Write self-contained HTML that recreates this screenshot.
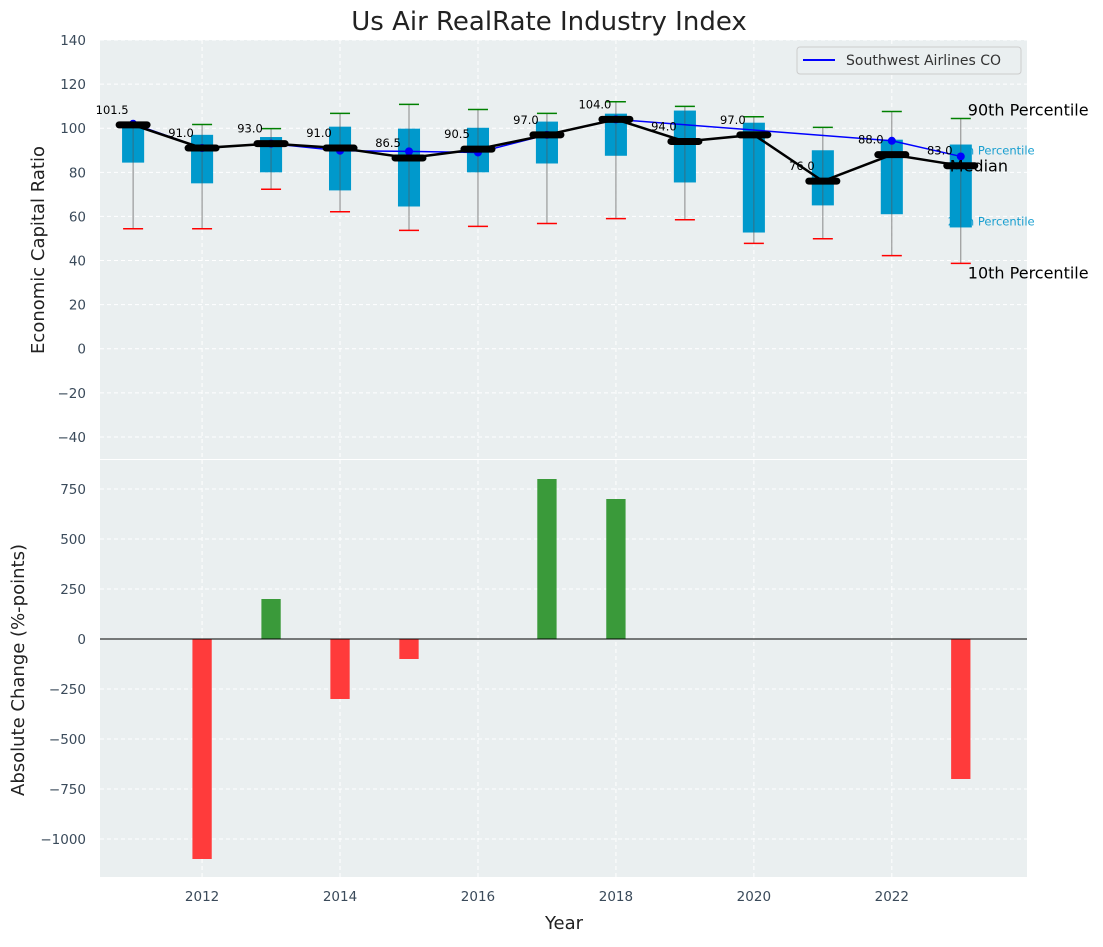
<!DOCTYPE html>
<html><head><meta charset="utf-8"><style>
body{margin:0;background:#fff;font-family:"Liberation Sans","DejaVu Sans",sans-serif}
svg text{font-family:"DejaVu Sans","Liberation Sans",sans-serif}
</style></head><body>
<svg id="c" width="1103" height="942" xmlns="http://www.w3.org/2000/svg"></svg>
<script>
const years=[2011,2012,2013,2014,2015,2016,2017,2018,2019,2020,2021,2022,2023];
const medians=[101.5,91,93,91,86.5,90.5,97,104,94,97,76,88,83];
const p90=[102,101.7,99.8,106.7,110.8,108.5,106.7,112,109.9,105.2,100.4,107.6,104.4];
const p75=[100.7,97,96,100.7,99.8,100.2,103,106.6,108,102.5,90,94.8,92.6];
const p25=[84.4,75,80,71.8,64.5,80,84,87.5,75.4,52.7,65,61,55];
const p10=[54.4,54.4,72.3,62.1,53.7,55.5,56.8,59,58.5,47.8,49.9,42.2,38.7];
const company=[102,91,93,89.8,89.5,89,97,104,null,null,null,94.3,87.2];
const changes=[0,-1100,200,-300,-100,0,800,700,0,0,0,0,-700];
const topTicks=[-40,-20,0,20,40,60,80,100,120,140];
const botTicks=[-1000,-750,-500,-250,0,250,500,750];
const xTicks=[2012,2014,2016,2018,2020,2022];

const svg=document.getElementById('c');
const NS='http://www.w3.org/2000/svg';
function mk(t,a,txt){const e=document.createElementNS(NS,t);for(const k in a)e.setAttribute(k,a[k]);if(txt!==undefined)e.textContent=txt;svg.appendChild(e);return e;}
const L=100,R=1027;
const x=v=>L+(v-2010.52)/(2023.96-2010.52)*(R-L);
const T1=40,B1=459,yt=v=>T1+(140-v)/190*(B1-T1);
const T2=460,B2=877,yb=v=>639-v*0.2;

let e=mk('rect',{x:L,y:T1,width:R-L,height:B1-T1,fill:'#eaeff0'});

e=mk('rect',{x:L,y:T2,width:R-L,height:B2-T2,fill:'#eaeff0'});


xTicks.forEach(t=>{
  [[T1,B1],[T2,B2]].forEach(([a,b])=>{e=mk('line',{x1:x(t),x2:x(t),y1:a,y2:b,stroke:'#fff','stroke-dasharray':'4,3','stroke-width':1});
  });
  e=mk('text',{x:x(t),y:B2+24,'text-anchor':'middle','font-size':13.5,fill:'#3a4a5a'},t);
  
});
topTicks.forEach(t=>{
  e=mk('line',{x1:L,x2:R,y1:yt(t),y2:yt(t),stroke:'#fff','stroke-dasharray':'4,3'});
  
  e=mk('text',{x:L-14,y:yt(t)+5,'text-anchor':'end','font-size':13.5,fill:'#3a4a5a'},t<0?'\u2212'+(-t):t);
  
});
botTicks.forEach(t=>{
  e=mk('line',{x1:L,x2:R,y1:yb(t),y2:yb(t),stroke:'#fff','stroke-dasharray':'4,3'});
  
  e=mk('text',{x:L-14,y:yb(t)+5,'text-anchor':'end','font-size':13.5,fill:'#3a4a5a'},t<0?'\u2212'+(-t):t);
  
});

const lx=x(2023)-13;
e=mk('text',{x:lx,y:yt(p75[12])+10,'font-size':11.5,fill:'#1a9fd0'},'75th Percentile');

e=mk('text',{x:lx,y:yt(p25[12])-2,'font-size':11.5,fill:'#1a9fd0'},'25th Percentile');


const bw=0.32;
years.forEach((yr,i)=>{
  const cx=x(yr);
  e=mk('line',{x1:cx,x2:cx,y1:yt(p10[i]),y2:yt(p90[i]),stroke:'#888','stroke-width':1});
  
  const w=x(yr+bw/2)-x(yr-bw/2);
  e=mk('rect',{x:cx-w/2,y:yt(p75[i]),width:w,height:yt(p25[i])-yt(p75[i]),fill:'#0099cc'});
  
  e=mk('line',{x1:cx,x2:cx,y1:yt(p25[i]),y2:yt(p75[i]),stroke:'#555','stroke-width':1,opacity:0.6});
  
  e=mk('line',{x1:cx-10,x2:cx+10,y1:yt(p90[i]),y2:yt(p90[i]),stroke:'green','stroke-width':1.5});
  
  e=mk('line',{x1:cx-10,x2:cx+10,y1:yt(p10[i]),y2:yt(p10[i]),stroke:'red','stroke-width':1.5});
  
});

let pts=[];years.forEach((yr,i)=>{if(company[i]!==null)pts.push(x(yr)+','+yt(company[i]));});
e=mk('polyline',{points:pts.join(' '),fill:'none',stroke:'blue','stroke-width':1.5});

years.forEach((yr,i)=>{if(company[i]===null)return;
  e=mk('circle',{cx:x(yr),cy:yt(company[i]),r:4,fill:'blue'});
  });

e=mk('polyline',{points:years.map((yr,i)=>x(yr)+','+yt(medians[i])).join(' '),fill:'none',stroke:'#000','stroke-width':2.5});

years.forEach((yr,i)=>{
  e=mk('line',{x1:x(yr)-14,x2:x(yr)+14,y1:yt(medians[i]),y2:yt(medians[i]),stroke:'#000','stroke-width':7,'stroke-linecap':'round'});
  
  e=mk('text',{x:x(yr)-21,y:yt(medians[i])-11,'text-anchor':'middle','font-size':11.5,fill:'#000'},medians[i].toFixed(1));
  
});

e=mk('text',{x:lx+20,y:yt(p90[12])-3,'font-size':16,fill:'#000'},'90th Percentile');

e=mk('text',{x:lx+2,y:yt(medians[12])+6,'font-size':16,fill:'#000'},'Median');

e=mk('text',{x:lx+20,y:yt(p10[12])+15,'font-size':16,fill:'#000'},'10th Percentile');


years.forEach((yr,i)=>{const v=changes[i];if(v===0)return;
  const w=x(yr+0.14)-x(yr-0.14);
  e=mk('rect',{x:x(yr)-w/2,y:Math.min(yb(v),yb(0)),width:w,height:Math.abs(yb(v)-yb(0)),fill:v>0?'#3a9a3a':'#ff3b3b'});
  });
e=mk('line',{x1:L,x2:R,y1:yb(0),y2:yb(0),stroke:'#000','stroke-width':1});


e=mk('rect',{x:797,y:47,width:224,height:27,rx:3,fill:'#eaeff0',stroke:'#ccc'});

e=mk('line',{x1:803,x2:835,y1:60,y2:60,stroke:'blue','stroke-width':2});

e=mk('text',{x:846,y:65,'font-size':14,fill:'#333'},'Southwest Airlines CO');


e=mk('text',{x:549,y:30,'text-anchor':'middle','font-size':26,fill:'#222'},'Us Air RealRate Industry Index');

e=mk('text',{x:564,y:929,'text-anchor':'middle','font-size':18,fill:'#222'},'Year');

e=mk('text',{x:44,y:250,'text-anchor':'middle','font-size':18,fill:'#222',transform:'rotate(-90 44 250)'},'Economic Capital Ratio');

e=mk('text',{x:24,y:670,'text-anchor':'middle','font-size':18,fill:'#222',transform:'rotate(-90 24 670)'},'Absolute Change (%-points)');

</script>
</body></html>
